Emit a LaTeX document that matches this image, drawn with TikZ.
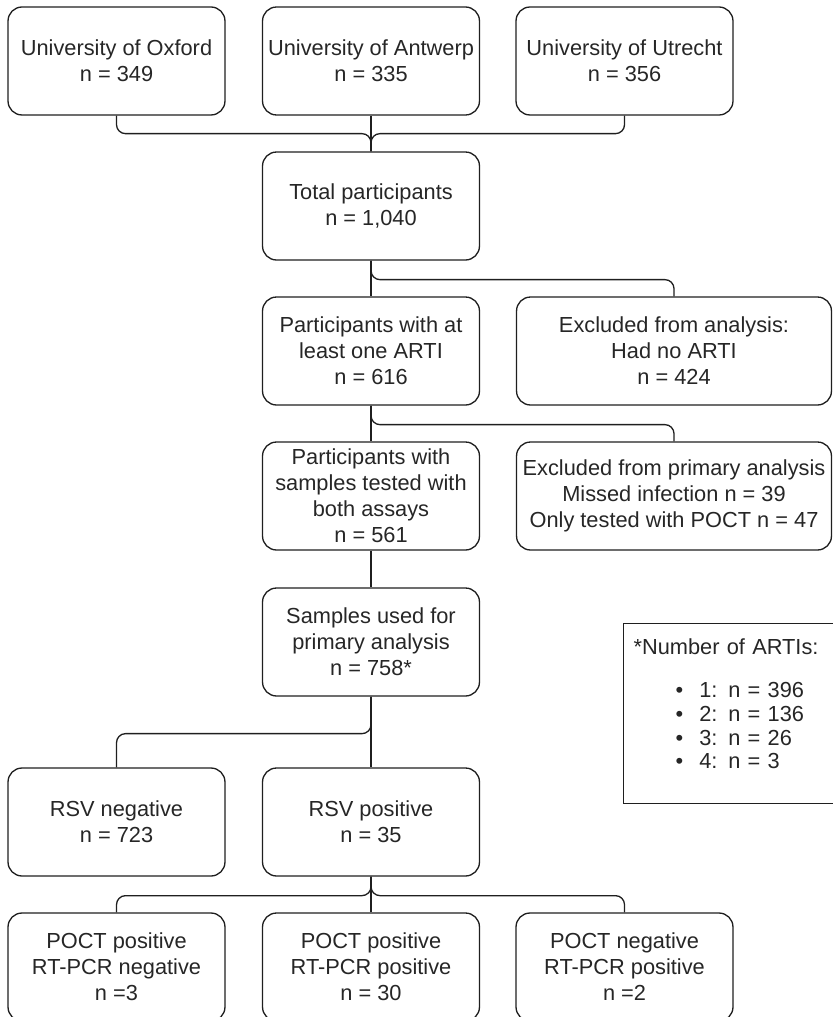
\documentclass[tikz,border=0pt]{standalone}
\usepackage{fontspec}
\setmainfont{Liberation Sans}
\usetikzlibrary{calc,positioning}
\definecolor{boxline}{HTML}{1F1F1F}
\definecolor{txtcol}{HTML}{262626}
\tikzset{
  flowbox/.style = {draw=boxline, line width=0.75pt, rounded corners=0.28cm,
                    text=txtcol, align=center, inner sep=2pt,
                    minimum width=4.34cm, minimum height=2.16cm,
                    font=\fontsize{12.4}{14.8}\selectfont},
  widebox/.style = {flowbox, minimum width=6.3cm},
  legbox/.style  = {draw=boxline, line width=0.75pt, text=txtcol, align=left,
                    anchor=north west, text width=3.94cm, inner xsep=0.2cm,
                    minimum height=3.6cm, text depth=2.7cm,
                    font=\fontsize{12.4}{13.4}\selectfont},
  link/.style    = {draw=boxline, line width=0.75pt, rounded corners=0.18cm},
}

\begin{document}
\begin{tikzpicture}[x=0.02cm, y=-0.02cm]
    \useasboundingbox (0,0) rectangle (832,1017);

    % sites
    \node[flowbox] (oxf) at (116.5,61) {University of Oxford\\n = 349};
    \node[flowbox] (ant) at (371,61)   {University of Antwerp\\n = 335};
    \node[flowbox] (utr) at (624.5,61) {University of Utrecht\\n = 356};

    % main column
    \node[flowbox] (tot)  at (371,206) {Total participants\\n = 1,040};
    \node[flowbox] (arti) at (371,351) {Participants with at\\least one ARTI\\n = 616};
    \node[flowbox] (both) at (371,496) {Participants with\\samples tested with\\both assays\\n = 561};
    \node[flowbox] (samp) at (371,642) {Samples used for\\primary analysis\\n = 758*};

    % exclusions
    \node[widebox] (exc1) at (674,351) {Excluded from analysis:\\Had no ARTI\\n = 424};
    \node[widebox] (exc2) at (674,496) {Excluded from primary analysis\\Missed infection n = 39\\Only tested with POCT n = 47};

    % results
    \node[flowbox] (neg) at (116.5,822) {RSV negative\\n = 723};
    \node[flowbox] (pos) at (371,822)   {RSV positive\\n = 35};
    \node[flowbox] (pp1) at (116.5,967) {POCT positive\\RT-PCR negative\\n =3};
    \node[flowbox] (pp2) at (371,967)   {POCT positive\\RT-PCR positive\\n = 30};
    \node[flowbox] (pp3) at (624.5,967) {POCT negative\\RT-PCR positive\\n =2};

    % legend
    \node[legbox] (leg) at (623,623)
      {*Number of ARTIs:\\[11.6pt]
       \hspace*{0.84cm}\textbullet\hspace{0.32cm}1: n = 396\\
       \hspace*{0.84cm}\textbullet\hspace{0.32cm}2: n = 136\\
       \hspace*{0.84cm}\textbullet\hspace{0.32cm}3: n = 26\\
       \hspace*{0.84cm}\textbullet\hspace{0.32cm}4: n = 3};

    % connectors
    \draw[link] (oxf.south) -- ++(0,18) -| (tot.north);
    \draw[link] (utr.south) -- ++(0,18) -| (tot.north);
    \draw[link] (ant.south) -- (tot.north);

    \draw[link] (tot.south) -- ++(0,19) -| (exc1.north);
    \draw[link] (tot.south) -- (arti.north);
    \draw[link] (arti.south) -- ++(0,19) -| (exc2.north);
    \draw[link] (arti.south) -- (both.north);
    \draw[link] (both.south) -- (samp.north);

    \draw[link] (samp.south) -- ++(0,37) -| (neg.north);
    \draw[link] (samp.south) -- (pos.north);

    \draw[link] (pos.south) -- ++(0,19) -| (pp1.north);
    \draw[link] (pos.south) -- ++(0,19) -| (pp3.north);
    \draw[link] (pos.south) -- (pp2.north);
\end{tikzpicture}
\end{document}
